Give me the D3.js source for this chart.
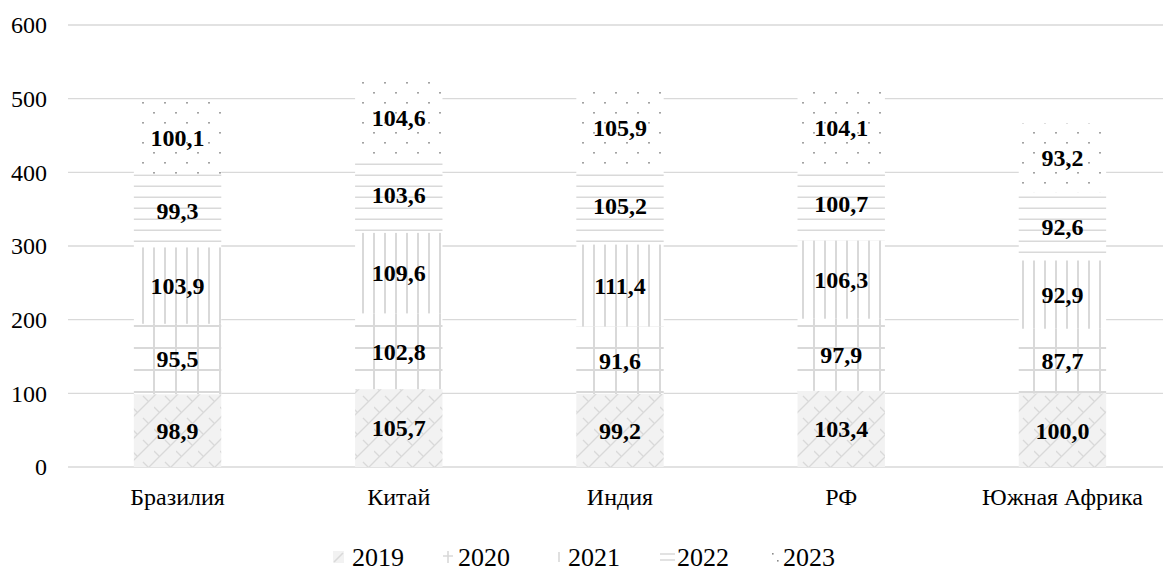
<!DOCTYPE html>
<html>
<head>
<meta charset="utf-8">
<script src="https://cdn.jsdelivr.net/npm/d3@7"></script>
<style>
  body { margin: 0; background: #fff; }
</style>
</head>
<body>
<div id="chart"></div>
<script>
var width = 1163,
    height = 577;
var serif = "'Liberation Serif', 'Times New Roman', serif";

// data
var countries = ["Бразилия", "Китай", "Индия", "РФ", "Южная Африка"];
var years = ["2019", "2020", "2021", "2022", "2023"];
var v2019 = [98.9, 105.7, 99.2, 103.4, 100.0];
var v2020 = [95.5, 102.8, 91.6, 97.9, 87.7];
var v2021 = [103.9, 109.6, 111.4, 106.3, 92.9];
var v2022 = [99.3, 103.6, 105.2, 100.7, 92.6];
var v2023 = [100.1, 104.6, 105.9, 104.1, 93.2];
var yTicks = [0, 100, 200, 300, 400, 500, 600];

var series = [v2019, v2020, v2021, v2022, v2023];

var rows = countries.map(function(c, i) {
    var r = { country: c };
    years.forEach(function(y, k) { r[y] = series[k][i]; });
    return r;
});

var stacked = d3.stack().keys(years)(rows);

var svg = d3.select("#chart").append("svg")
    .attr("width", width)
    .attr("height", height);

var x = d3.scaleBand()
    .domain(countries)
    .range([67.5, 1172.5])
    .paddingInner(0.605)
    .paddingOuter(0.3);

var y = d3.scaleLinear()
    .domain([0, 600])
    .range([467, 25]);

// patterns
var defs = svg.append("defs");
var grey = "#d9d9d9";

var p19 = defs.append("pattern").attr("id", "p2019")
    .attr("patternUnits", "userSpaceOnUse").attr("width", 22).attr("height", 22);
p19.append("rect").attr("width", 22).attr("height", 22).attr("fill", "#f2f2f2");
p19.append("path")
    .attr("d", "M0,22 L22,0 M0,11 L5,16 M11,0 L16,5 M11,22 L16,27 M-11,11 L11,-11 M11,33 L33,11")
    .attr("stroke", grey).attr("stroke-width", 1.3).attr("fill", "none");

var p20 = defs.append("pattern").attr("id", "p2020")
    .attr("patternUnits", "userSpaceOnUse").attr("width", 22).attr("height", 22);
p20.append("rect").attr("width", 22).attr("height", 22).attr("fill", "#fff");
p20.append("path").attr("d", "M0,0 V22 M22,0 V22 M0,18 H22")
    .attr("stroke", grey).attr("stroke-width", 2).attr("fill", "none");

var p21 = defs.append("pattern").attr("id", "p2021")
    .attr("patternUnits", "userSpaceOnUse").attr("width", 11).attr("height", 11);
p21.append("rect").attr("width", 11).attr("height", 11).attr("fill", "#fff");
p21.append("path").attr("d", "M0,0 V11 M11,0 V11")
    .attr("stroke", grey).attr("stroke-width", 2).attr("fill", "none");

var p22 = defs.append("pattern").attr("id", "p2022")
    .attr("patternUnits", "userSpaceOnUse").attr("width", 11).attr("height", 11);
p22.append("rect").attr("width", 11).attr("height", 11).attr("fill", "#fff");
p22.append("path").attr("d", "M0,10.5 H11")
    .attr("stroke", grey).attr("stroke-width", 2).attr("fill", "none");

var p23 = defs.append("pattern").attr("id", "p2023")
    .attr("patternUnits", "userSpaceOnUse").attr("width", 22).attr("height", 20);
p23.append("rect").attr("width", 22).attr("height", 20).attr("fill", "#fff");
p23.append("rect").attr("x", 10.2).attr("y", 2).attr("width", 1.6).attr("height", 1.6).attr("fill", "#8c8c8c");
p23.append("rect").attr("x", 21.2).attr("y", 12).attr("width", 1.6).attr("height", 1.6).attr("fill", "#8c8c8c");
p23.append("rect").attr("x", -0.8).attr("y", 12).attr("width", 1.6).attr("height", 1.6).attr("fill", "#8c8c8c");

// gridlines
svg.append("g")
    .selectAll("line")
    .data(yTicks)
    .enter().append("line")
    .attr("x1", 68)
    .attr("x2", width)
    .attr("y1", function(d) { return y(d); })
    .attr("y2", function(d) { return y(d); })
    .attr("stroke", grey)
    .attr("stroke-width", 1.3);

// y axis labels
svg.append("g")
    .selectAll("text")
    .data(yTicks)
    .enter().append("text")
    .attr("x", 47)
    .attr("y", function(d) { return y(d); })
    .attr("dy", "0.35em")
    .attr("text-anchor", "end")
    .attr("font-size", 24)
    .style("font-family", serif)
    .attr("fill", "#000")
    .text(function(d) { return d; });

// bars
var layers = svg.append("g")
    .selectAll("g")
    .data(stacked)
    .enter().append("g")
    .attr("fill", function(d) { return "url(#p" + d.key + ")"; });

layers.selectAll("rect")
    .data(function(d) { return d; })
    .enter().append("rect")
    .attr("x", function(d) { return x(d.data.country); })
    .attr("width", x.bandwidth())
    .attr("y", function(d) { return y(d[1]); })
    .attr("height", function(d) { return y(d[0]) - y(d[1]); });

// value labels
stacked.forEach(function(layer) {
    svg.append("g")
        .selectAll("text")
        .data(layer)
        .enter().append("text")
        .attr("x", function(d) { return x(d.data.country) + x.bandwidth() / 2; })
        .attr("y", function(d) { return (y(d[0]) + y(d[1])) / 2; })
        .attr("dy", "0.35em")
        .attr("text-anchor", "middle")
        .attr("font-size", 24)
        .attr("font-weight", "bold")
        .style("font-family", serif)
        .attr("fill", "#000")
        .text(function(d) { return d3.format(".1f")(d[1] - d[0]).replace(".", ","); });
});

// x axis labels
svg.append("g")
    .selectAll("text")
    .data(countries)
    .enter().append("text")
    .attr("x", function(d) { return x(d) + x.bandwidth() / 2; })
    .attr("y", 497)
    .attr("dy", "0.35em")
    .attr("text-anchor", "middle")
    .attr("font-size", 24)
    .style("font-family", serif)
    .attr("fill", "#000")
    .text(function(d) { return d; });

// legend: small swatches showing a piece of each pattern
var swatchPaths = {
    "2019": "M1,11 L10,2",
    "2020": "M5,0 V12 M0,5 H10",
    "2021": "M4,1 V11",
    "2022": "M0,3 H15 M0,9 H15",
    "2023": ""
};
var legendX = [333, 443, 555, 660, 768];
var textX = [352, 458, 568, 677, 783];

var legend = svg.append("g")
    .selectAll("g")
    .data(years)
    .enter().append("g")
    .attr("transform", function(d, i) { return "translate(" + legendX[i] + ",551)"; });

legend.filter(function(d) { return d === "2019"; })
    .append("rect")
    .attr("width", 11)
    .attr("height", 12)
    .attr("fill", "#f2f2f2");

legend.append("path")
    .attr("d", function(d) { return swatchPaths[d]; })
    .attr("stroke", grey)
    .attr("stroke-width", 1.6)
    .attr("fill", "none");

legend.filter(function(d) { return d === "2023"; })
    .selectAll("rect.dot")
    .data([[4, 2], [9, 9]])
    .enter().append("rect")
    .attr("class", "dot")
    .attr("x", function(d) { return d[0]; })
    .attr("y", function(d) { return d[1]; })
    .attr("width", 1.6)
    .attr("height", 1.6)
    .attr("fill", "#8c8c8c");

legend.append("text")
    .attr("x", function(d, i) { return textX[i] - legendX[i]; })
    .attr("y", 6)
    .attr("dy", "0.35em")
    .attr("font-size", 26)
    .style("font-family", serif)
    .attr("fill", "#000")
    .text(function(d) { return d; });
</script>
</body>
</html>
